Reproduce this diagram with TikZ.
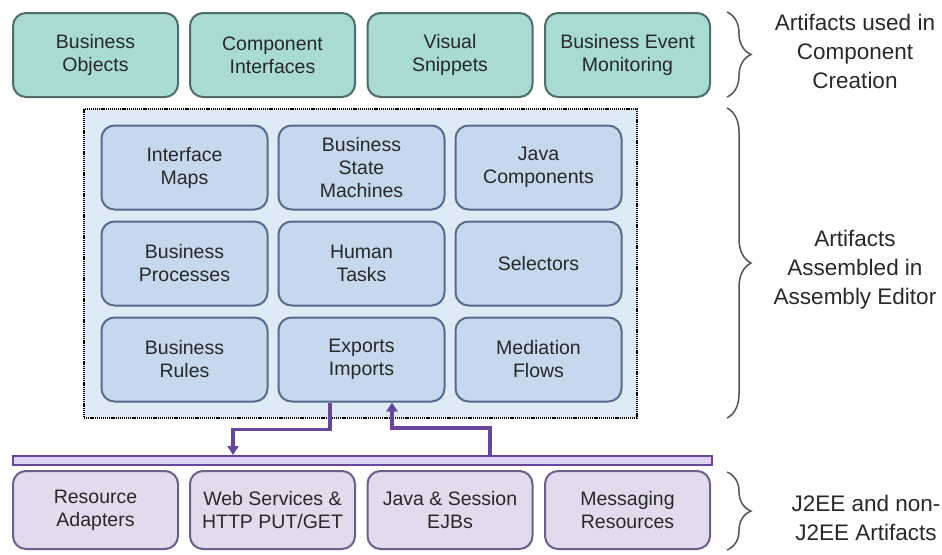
\documentclass[tikz,border=0pt]{standalone}
\usepackage{fontspec}
\setmainfont{Liberation Sans}
\usepackage{tikz}
\usetikzlibrary{arrows.meta,decorations.pathreplacing}

\definecolor{tealfill}{RGB}{168,219,211}
\definecolor{tealline}{RGB}{78,108,106}
\definecolor{bluefill}{RGB}{197,216,237}
\definecolor{blueline}{RGB}{86,108,138}
\definecolor{asmfill}{RGB}{222,234,245}
\definecolor{purpfill}{RGB}{226,219,238}
\definecolor{purpline}{RGB}{108,94,134}
\definecolor{busfill}{RGB}{222,211,240}
\definecolor{flowcol}{RGB}{104,70,160}
\definecolor{txt}{RGB}{40,40,40}

\begin{document}
\begin{tikzpicture}[x=1pt,y=-1pt,
  box/.style={draw,rounded corners=13pt,line width=2pt,align=center,
    text=txt,font=\fontsize{19.5}{23}\selectfont,
    minimum width=165pt,inner sep=0pt},
  topbox/.style={box,fill=tealfill,draw=tealline,minimum height=84pt},
  asmitem/.style={box,fill=bluefill,draw=blueline,minimum width=166pt,minimum height=84pt},
  j2eebox/.style={box,fill=purpfill,draw=purpline,minimum height=78pt},
  flow/.style={draw=flowcol,line width=3.2pt,-{Triangle[length=9pt,width=11pt]}},
  brc/.style={draw=txt!80,line width=1.5pt,decorate,
    decoration={brace,amplitude=24pt,aspect=0.5}},
  side/.style={align=center,text=txt,font=\fontsize{22.5}{29}\selectfont}]
\useasboundingbox (0,0) rectangle (942,554);

% component creation artifacts
\node[topbox] (bo) at (95.5,55) {Business\\Objects};
\node[topbox] (ci) at (272.5,55) {Component\\Interfaces};
\node[topbox] (vs) at (450,55) {Visual\\Snippets};
\node[topbox] (bem) at (627.5,55) {Business Event\\Monitoring};

% assembly editor
\node[draw=black,dash pattern=on 1.2pt off 0.9pt,line width=2.2pt,fill=asmfill,
  minimum width=553pt,minimum height=309pt] (asm) at (360.5,263.5) {};
\node[asmitem] (im) at (184.5,167.5) {Interface\\Maps};
\node[asmitem] (bsm) at (361.5,167.5) {Business\\State\\Machines};
\node[asmitem] (jc) at (538.5,167.5) {Java\\Components};
\node[asmitem] (bp) at (184.5,263.5) {Business\\Processes};
\node[asmitem] (ht) at (361.5,263.5) {Human\\Tasks};
\node[asmitem] (sel) at (538.5,263.5) {Selectors};
\node[asmitem] (br) at (184.5,359.5) {Business\\Rules};
\node[asmitem] (expimp) at (361.5,359.5) {Exports\\Imports};
\node[asmitem] (mf) at (538.5,359.5) {Mediation\\Flows};

% j2ee layer
\node[draw=flowcol,fill=busfill,line width=2pt,
  minimum width=699pt,minimum height=9pt,inner sep=0pt] (bus) at (362.5,460.5) {};
\node[j2eebox] (ra) at (95.5,510) {Resource\\Adapters};
\node[j2eebox] (ws) at (272.5,510) {Web Services \&\\HTTP PUT/GET};
\node[j2eebox] (ejb) at (450,510) {Java \& Session\\EJBs};
\node[j2eebox] (msg) at (627.5,510) {Messaging\\Resources};

\draw[flow] ([xshift=-31.5pt]expimp.south) -- ++(0,27) -| ([xshift=-129.5pt]bus.north);
\draw[flow] ([xshift=127.5pt]bus.north) -- ++(0,-27) -| ([xshift=30.5pt]expimp.south);

% braces and labels
\draw[brc] (727,12) -- (727,97);
\draw[brc] (727,108) -- (727,418);
\draw[brc] (727,472) -- (727,550);
\node[side] (lbltop) at (855,51) {Artifacts used in\\Component\\Creation};
\node[side] (lblasm) at (855,270) {Artifacts\\Assembled in\\Assembly Editor};
\node[side] (lblj2ee) at (866,518) {J2EE and non-\\J2EE Artifacts};
\end{tikzpicture}
\end{document}
